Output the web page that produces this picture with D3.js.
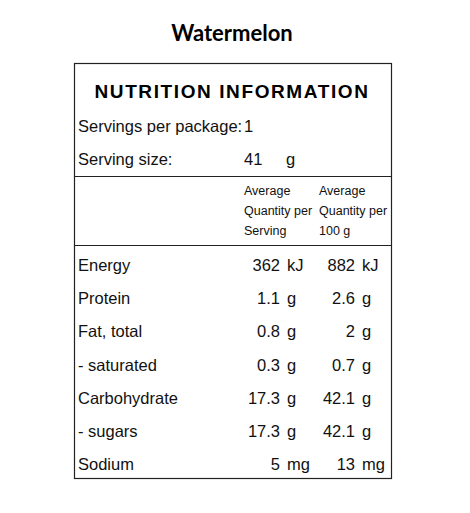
<!DOCTYPE html>
<html><head><meta charset="utf-8">
<script src="https://cdn.jsdelivr.net/npm/d3@7"></script>
<style>body{margin:0;background:#fff}</style>
</head><body>
<script>
var nutrients = ["Energy","Protein","Fat, total","- saturated","Carbohydrate","- sugars","Sodium"];
var perServing = ["362","1.1","0.8","0.3","17.3","17.3","5"];
var per100g = ["882","2.6","2","0.7","42.1","42.1","13"];
var units = ["kJ","g","g","g","g","g","mg"];
var headerLines = [["Average","Quantity per","Serving"],["Average","Quantity per","100 g"]];

var svg = d3.select("body").append("svg").attr("width",470).attr("height",513);
var F = "'Liberation Sans', Arial, sans-serif";

svg.append("text").attr("x",232).attr("y",41).attr("text-anchor","middle")
  .style("font-family","Lato, sans-serif").style("font-weight","bold").style("font-size","22px")
  .text("Watermelon");

svg.append("rect").attr("x",74.5).attr("y",63.5).attr("width",317).attr("height",415)
  .attr("fill","none").attr("stroke","#222").attr("stroke-width",1.2);
[176.5,245.5].forEach(function(y){
  svg.append("line").attr("x1",74).attr("x2",391).attr("y1",y).attr("y2",y).attr("stroke","#222").attr("stroke-width",1.2);
});

svg.append("text").attr("x",232).attr("y",98).attr("text-anchor","middle")
  .style("font-family",F).style("font-weight","bold").style("font-size","19px").style("letter-spacing","1.6px")
  .text("NUTRITION INFORMATION");

function t(x,y,s,size,anchor){
  return svg.append("text").attr("x",x).attr("y",y).attr("text-anchor",anchor||"start")
    .style("font-family",F).style("font-size",(size||16.5)+"px").attr("fill","#111").text(s);
}
t(78,132,"Servings per package:"); t(244,132,"1");
t(78,165,"Serving size:"); t(244,165,"41"); t(286,165,"g");

headerLines.forEach(function(lines,c){
  lines.forEach(function(s,i){ t(c?319:244, 195+i*20, s, 12.5); });
});

var y = d3.scalePoint().domain(nutrients).range([271,470]);
var g = svg.append("g").selectAll("g").data(nutrients).enter().append("g")
  .style("font-family",F).style("font-size","16.5px").attr("fill","#111");
g.append("text").attr("x",78).attr("y",function(d){return y(d);}).text(function(d){return d;});
g.append("text").attr("x",280).attr("y",function(d){return y(d);}).attr("text-anchor","end").text(function(d,i){return perServing[i];});
g.append("text").attr("x",287).attr("y",function(d){return y(d);}).text(function(d,i){return units[i];});
g.append("text").attr("x",355).attr("y",function(d){return y(d);}).attr("text-anchor","end").text(function(d,i){return per100g[i];});
g.append("text").attr("x",362).attr("y",function(d){return y(d);}).text(function(d,i){return units[i];});
</script>
</body></html>
